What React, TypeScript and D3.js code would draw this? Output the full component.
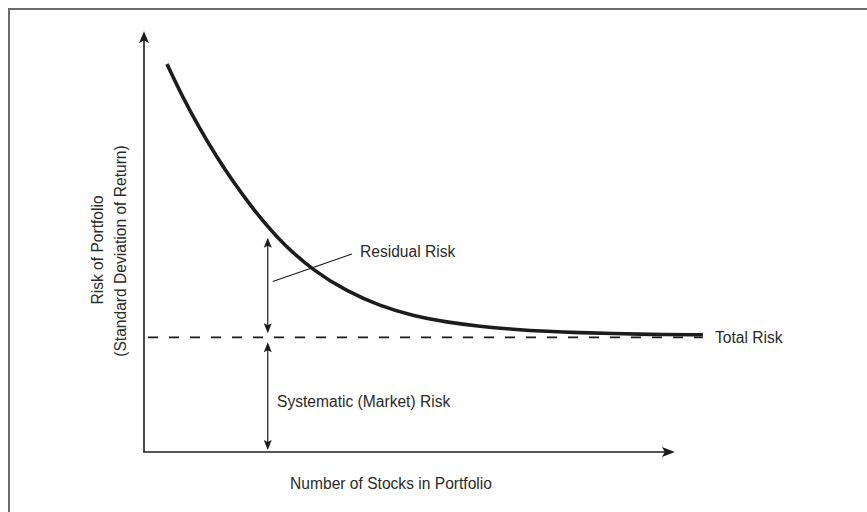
import React from "react";
import * as d3 from "d3";

// Curve: number of stocks (arbitrary units) vs total risk (arbitrary units)
const stocks = [4.1, 7, 10, 13, 15.9, 18.9, 22, 24.8, 30.2, 36.3, 42.1, 48, 54.1, 60, 65.9, 72, 77.9, 83.8, 89.8, 99.8];
const totalRisk = [92.4, 84.2, 76.9, 70.2, 64.4, 58.9, 53.8, 49.6, 43.2, 38.2, 34.8, 32.4, 30.9, 29.9, 29.2, 28.7, 28.4, 28.2, 28.0, 27.9];

const systematicLevel = [27.3];
const residualArrowX = [22.1];
const residualTop = [51];
const axisEnds = [94.8, 100.2]; // x-axis end, y-axis end

const labels = {
  residual: "Residual Risk",
  systematic: "Systematic (Market) Risk",
  total: "Total Risk",
  xTitle: "Number of Stocks in Portfolio",
  yTitle1: "Risk of Portfolio",
  yTitle2: "(Standard Deviation of Return)",
};

const W = 867;
const H = 512;
const FONT = "'Liberation Sans', Arial, Helvetica, sans-serif";
const INK = "#1c1c1c";
const TEXT = "#2a2a2a";

function arrowHead(tipX: number, tipY: number, dir: "up" | "down" | "right", len: number, half: number, notch: number) {
  const pts: [number, number][] = [
    [0, 0],
    [-len, -half],
    [-len + notch, 0],
    [-len, half],
  ];
  const ang = dir === "right" ? 0 : dir === "up" ? -Math.PI / 2 : Math.PI / 2;
  const c = Math.cos(ang), s = Math.sin(ang);
  const p = pts.map(([x, y]) => [tipX + x * c - y * s, tipY + x * s + y * c]);
  return "M" + p.map((q) => q[0].toFixed(2) + "," + q[1].toFixed(2)).join("L") + "Z";
}

export default function App() {
  const x = d3.scaleLinear().domain([0, 100]).range([144, 704]);
  const y = d3.scaleLinear().domain([0, 100]).range([452, 32]);

  const line = d3
    .line<number>()
    .x((_, i) => x(stocks[i]))
    .y((d) => y(d))
    .curve(d3.curveBasis);

  const x0 = x(0);
  const y0 = y(0);
  const xEnd = x(axisEnds[0]);
  const yEnd = y(axisEnds[1]);
  const sysY = y(systematicLevel[0]);
  const ax = x(residualArrowX[0]);
  const resTop = y(residualTop[0]);

  return (
    <svg
      width={W}
      height={H}
      style={{ position: "absolute", left: 0, top: 0, background: "#fff" }}
      xmlns="http://www.w3.org/2000/svg"
    >
      <rect x={0} y={0} width={W} height={H} fill="#fff" />
      {/* frame */}
      <rect x={9} y={9} width={W + 20} height={H + 20} fill="none" stroke="#6b6b6b" strokeWidth={2} />

      {/* axes */}
      <line x1={x0} y1={y0} x2={x0} y2={yEnd + 6} stroke={INK} strokeWidth={1.6} />
      <line x1={x0 - 0.8} y1={y0} x2={xEnd - 6} y2={y0} stroke={INK} strokeWidth={1.6} />
      <path d={arrowHead(x0, yEnd, "up", 12, 5, 3)} fill={INK} />
      <path d={arrowHead(xEnd, y0, "right", 13, 5, 3)} fill={INK} />

      {/* systematic dashed line */}
      <line
        x1={x0 + 4}
        y1={sysY}
        x2={x(99.8)}
        y2={sysY}
        stroke={INK}
        strokeWidth={1.6}
        strokeDasharray="10,11"
      />

      {/* total risk curve */}
      <path d={line(totalRisk) || ""} fill="none" stroke={INK} strokeWidth={3.6} strokeLinecap="butt" />

      {/* residual arrow */}
      <line x1={ax} y1={resTop + 4} x2={ax} y2={sysY - 8} stroke={INK} strokeWidth={1.2} />
      <path d={arrowHead(ax, resTop, "up", 10, 4, 2)} fill={INK} />
      <path d={arrowHead(ax, sysY - 4, "down", 10, 4, 2)} fill={INK} />

      {/* systematic arrow */}
      <line x1={ax} y1={sysY + 9} x2={ax} y2={y0 - 6} stroke={INK} strokeWidth={1.2} />
      <path d={arrowHead(ax, sysY + 5, "up", 10, 4, 2)} fill={INK} />
      <path d={arrowHead(ax, y0 - 2, "down", 10, 4, 2)} fill={INK} />

      {/* leader line for residual risk */}
      <line x1={ax + 5} y1={281.5} x2={352} y2={254} stroke={INK} strokeWidth={1.1} />

      {/* labels */}
      <g fontFamily={FONT} fontSize={15.6} fill={TEXT}>
        <text x={360} y={257.3}>{labels.residual}</text>
        <text x={277} y={407}>{labels.systematic}</text>
        <text x={715} y={343.3}>{labels.total}</text>
        <text x={391} y={489.3} textAnchor="middle">{labels.xTitle}</text>
        <g transform="translate(103,250) rotate(-90)">
          <text x={0} y={0} textAnchor="middle">{labels.yTitle1}</text>
        </g>
        <g transform="translate(126,251) rotate(-90)">
          <text x={0} y={0} textAnchor="middle">{labels.yTitle2}</text>
        </g>
      </g>
    </svg>
  );
}
